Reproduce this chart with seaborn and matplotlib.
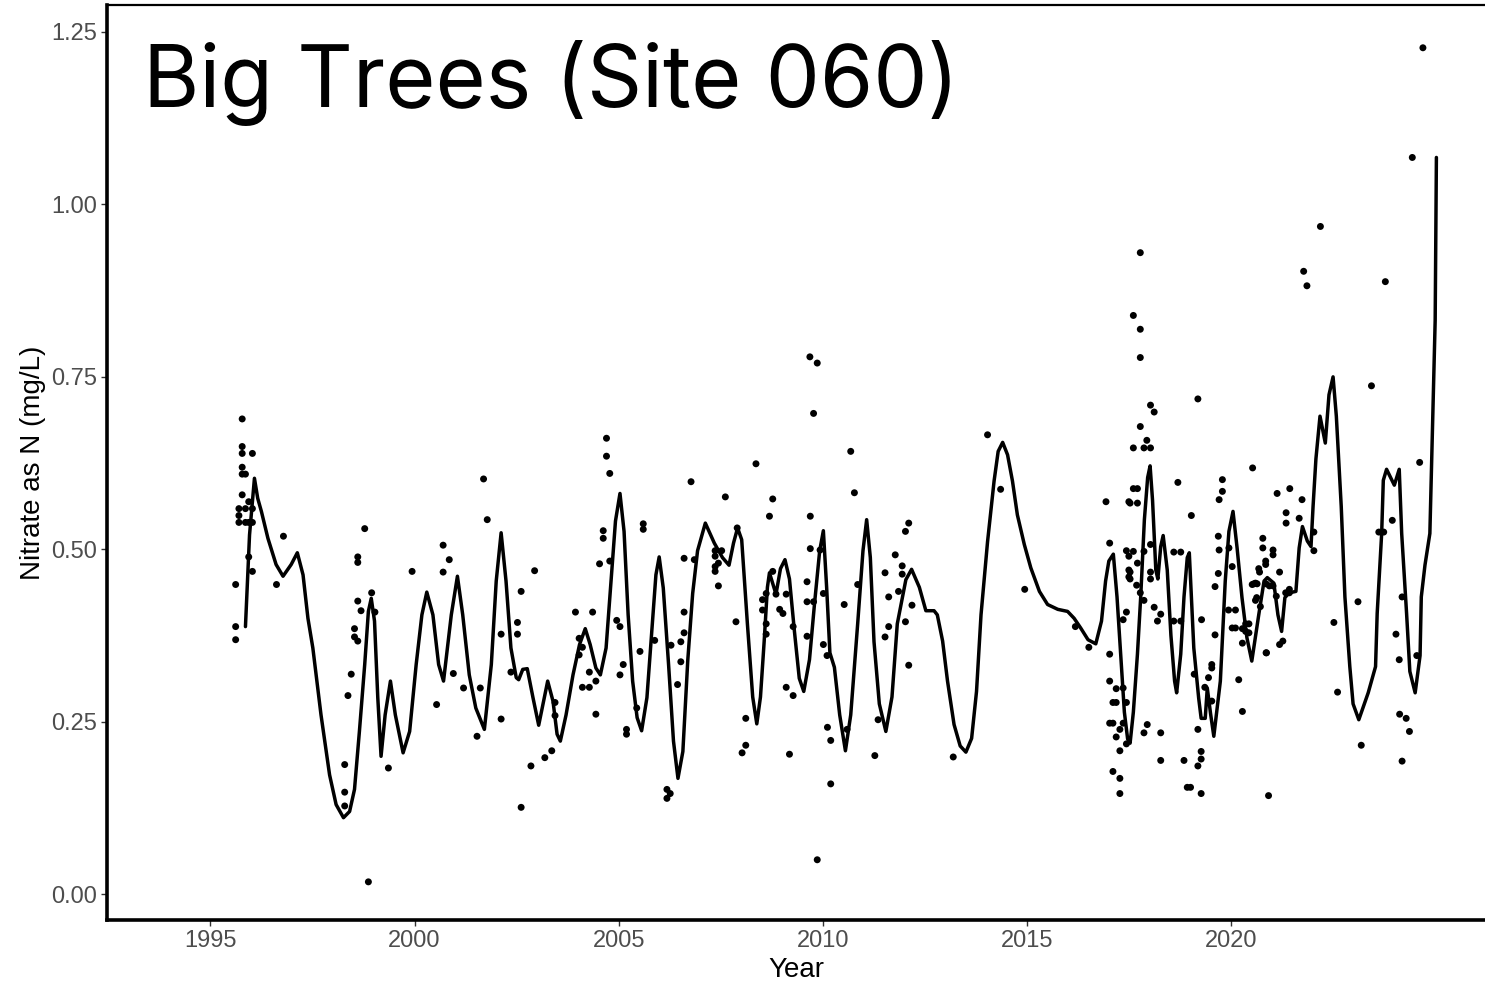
import matplotlib
matplotlib.use("Agg")
import matplotlib.pyplot as plt
import seaborn as sns
import pandas as pd

# Individual nitrate samples (decimal year, mg/L as N)
sample_year = [
    1995.78, 1995.78, 1995.78, 1996.03, 1995.78, 1995.78, 1995.86, 1995.78, 1995.70, 1995.86,
    1996.03, 1995.94, 1995.70, 1995.70, 1995.86, 1995.94, 1996.03, 1995.94, 1996.03, 1995.62,
    1995.62, 1995.62, 1996.79, 1996.62,
    1998.78, 1998.61, 1998.61, 1998.61, 1998.69, 1998.95, 1999.03, 1998.53, 1998.53, 1998.61,
    1998.45, 1998.37, 1998.29, 1998.29, 1998.29, 1998.87, 1999.36, 1999.94, 2000.70, 2000.85,
    2000.70, 2000.54,
    2000.95, 2001.20, 2001.61, 2001.53, 2001.69, 2001.78, 2002.12, 2002.12, 2002.36, 2002.52,
    2002.52, 2002.61, 2002.61, 2002.85, 2002.94, 2003.19, 2003.36, 2003.44, 2003.44, 2003.94,
    2004.03, 2004.03, 2004.11, 2004.11, 2004.28, 2004.28, 2004.36, 2004.44, 2004.44, 2004.53,
    2004.62, 2004.62, 2004.70, 2004.70, 2004.78, 2004.78, 2004.95, 2005.03, 2005.11, 2005.03,
    2005.19, 2005.19, 2005.44, 2005.52, 2005.60, 2005.60, 2005.88, 2006.18, 2006.26, 2006.18,
    2006.28, 2006.52, 2006.52, 2006.44, 2006.60, 2006.60, 2006.60, 2006.77, 2006.85, 2007.36,
    2007.36, 2007.52, 2007.44, 2007.36, 2007.36, 2007.44, 2007.61, 2007.87, 2007.90, 2008.11,
    2008.11, 2008.02, 2008.36, 2008.52, 2008.52, 2008.61, 2008.61, 2008.61, 2008.69, 2008.77,
    2008.77, 2008.85, 2008.94, 2009.02, 2009.10, 2009.10, 2009.27, 2009.27, 2009.18, 2009.61,
    2009.61, 2009.61, 2009.69, 2009.69, 2009.68, 2009.86, 2009.77, 2009.77, 2009.93, 2010.01,
    2010.01, 2010.10, 2009.86, 2010.11, 2010.19, 2010.19, 2010.52, 2010.68, 2010.77, 2010.85,
    2010.59, 2011.27, 2011.35, 2011.52, 2011.61, 2011.61, 2011.52, 2011.77, 2011.85, 2011.94,
    2011.94, 2012.02, 2012.10, 2012.02, 2012.18, 2012.10,
    2013.19, 2014.03, 2014.35, 2014.94, 2016.18, 2016.51, 2016.93, 2017.02, 2017.02, 2017.02,
    2017.18, 2017.10, 2017.18, 2017.02, 2017.10, 2017.18, 2017.27, 2017.35, 2017.27, 2017.10,
    2017.27, 2017.35, 2017.43, 2017.43, 2017.35, 2017.43, 2017.43, 2017.49, 2017.49, 2017.49,
    2017.49, 2017.27,
    2017.77, 2017.60, 2017.77, 2017.77, 2019.18, 2018.02, 2018.11, 2017.77, 2017.93, 2017.86,
    2018.02, 2017.60, 2020.52, 2018.69, 2017.60, 2017.70, 2017.52, 2017.70, 2019.78, 2019.78,
    2019.70, 2019.02, 2018.59, 2018.76, 2019.68, 2019.70, 2020.77, 2020.77, 2018.02, 2017.52,
    2017.52, 2017.68, 2017.77, 2017.86, 2018.02, 2018.02, 2017.60, 2017.70, 2017.86, 2019.60,
    2019.68, 2020.02, 2020.51, 2020.59, 2020.67, 2020.84, 2020.59, 2018.11, 2018.27, 2018.19,
    2018.59, 2018.76, 2019.27, 2019.93, 2020.10, 2020.02, 2020.10, 2020.35, 2020.43, 2020.27,
    2020.35, 2020.43, 2020.27, 2020.85, 2019.60, 2019.52, 2019.52, 2019.44, 2019.35, 2019.52,
    2019.09, 2020.18, 2020.27, 2017.94, 2017.86, 2018.27, 2018.27, 2018.84, 2018.92, 2019.00,
    2019.18, 2019.26, 2019.18, 2019.26, 2019.26, 2020.91, 2019.94, 2020.62,
    2024.69, 2024.43, 2022.18, 2021.77, 2021.85, 2023.77, 2023.43, 2024.61, 2021.43, 2021.12,
    2021.73, 2021.34, 2021.34, 2021.66, 2022.02, 2022.02, 2023.61, 2023.73, 2023.94, 2021.02,
    2021.02, 2020.84, 2020.69, 2021.18, 2020.55, 2020.63, 2020.85, 2020.93, 2021.02, 2021.42,
    2021.10, 2021.33, 2021.42, 2020.71, 2020.86, 2021.18, 2021.26, 2023.10, 2022.51, 2022.60,
    2023.18, 2024.18, 2024.03, 2024.11, 2024.54, 2024.12, 2024.28, 2024.36, 2024.18,
]
sample_nitrate = [
    0.689, 0.649, 0.639, 0.639, 0.619, 0.609, 0.609, 0.579, 0.559, 0.559,
    0.559, 0.569, 0.549, 0.539, 0.539, 0.539, 0.539, 0.489, 0.468, 0.449,
    0.388, 0.369, 0.519, 0.449,
    0.530, 0.489, 0.481, 0.425, 0.411, 0.437, 0.409, 0.385, 0.373, 0.367,
    0.319, 0.288, 0.188, 0.148, 0.128, 0.018, 0.183, 0.468, 0.506, 0.485,
    0.467, 0.275,
    0.320, 0.299, 0.299, 0.229, 0.602, 0.543, 0.377, 0.254, 0.322, 0.394,
    0.377, 0.439, 0.126, 0.186, 0.469, 0.198, 0.208, 0.278, 0.259, 0.409,
    0.371, 0.347, 0.358, 0.300, 0.300, 0.322, 0.409, 0.309, 0.261, 0.479,
    0.527, 0.516, 0.661, 0.635, 0.610, 0.483, 0.397, 0.388, 0.333, 0.318,
    0.239, 0.232, 0.270, 0.352, 0.537, 0.529, 0.368, 0.152, 0.146, 0.139,
    0.361, 0.366, 0.337, 0.304, 0.379, 0.409, 0.487, 0.598, 0.485, 0.498,
    0.490, 0.498, 0.480, 0.475, 0.468, 0.447, 0.576, 0.395, 0.531, 0.255,
    0.216, 0.205, 0.624, 0.427, 0.412, 0.436, 0.392, 0.377, 0.548, 0.573,
    0.468, 0.435, 0.413, 0.407, 0.435, 0.300, 0.288, 0.388, 0.203, 0.453,
    0.424, 0.374, 0.548, 0.501, 0.779, 0.770, 0.697, 0.424, 0.499, 0.436,
    0.362, 0.346, 0.050, 0.242, 0.223, 0.160, 0.420, 0.642, 0.582, 0.449,
    0.239, 0.201, 0.253, 0.466, 0.431, 0.388, 0.373, 0.492, 0.439, 0.476,
    0.464, 0.526, 0.538, 0.395, 0.419, 0.332,
    0.199, 0.666, 0.587, 0.442, 0.388, 0.358, 0.569, 0.509, 0.348, 0.309,
    0.298, 0.278, 0.278, 0.248, 0.248, 0.228, 0.239, 0.248, 0.208, 0.178,
    0.168, 0.299, 0.218, 0.278, 0.398, 0.409, 0.498, 0.490, 0.470, 0.460,
    0.569, 0.146,
    0.930, 0.839, 0.819, 0.778, 0.718, 0.709, 0.699, 0.678, 0.658, 0.647,
    0.647, 0.647, 0.618, 0.597, 0.588, 0.588, 0.567, 0.567, 0.601, 0.584,
    0.572, 0.549, 0.496, 0.496, 0.519, 0.499, 0.516, 0.502, 0.507, 0.467,
    0.457, 0.448, 0.437, 0.426, 0.467, 0.457, 0.497, 0.480, 0.497, 0.446,
    0.465, 0.475, 0.449, 0.451, 0.472, 0.483, 0.426, 0.416, 0.406, 0.396,
    0.396, 0.396, 0.398, 0.412, 0.412, 0.386, 0.386, 0.392, 0.392, 0.385,
    0.381, 0.379, 0.364, 0.350, 0.376, 0.333, 0.328, 0.314, 0.300, 0.280,
    0.319, 0.311, 0.265, 0.246, 0.234, 0.234, 0.194, 0.194, 0.155, 0.155,
    0.239, 0.207, 0.186, 0.196, 0.146, 0.143, 0.502, 0.430,
    1.227, 1.068, 0.968, 0.903, 0.882, 0.888, 0.737, 0.626, 0.588, 0.581,
    0.572, 0.553, 0.538, 0.545, 0.525, 0.498, 0.525, 0.525, 0.542, 0.499,
    0.492, 0.478, 0.467, 0.467, 0.450, 0.450, 0.450, 0.447, 0.447, 0.442,
    0.432, 0.437, 0.437, 0.417, 0.350, 0.362, 0.367, 0.424, 0.394, 0.293,
    0.216, 0.431, 0.377, 0.340, 0.346, 0.261, 0.255, 0.236, 0.193,
]

# Smoothed trend line (decimal year, mg/L as N)
trend_year = [
    1995.86, 1995.96, 1996.08, 1996.16, 1996.25, 1996.41, 1996.61, 1996.78, 1996.98, 1997.13,
    1997.27, 1997.39, 1997.51, 1997.71, 1997.92, 1998.08, 1998.26, 1998.41, 1998.53, 1998.65,
    1998.78, 1998.87, 1998.94, 1999.02, 1999.10, 1999.18, 1999.28, 1999.41, 1999.53, 1999.72,
    1999.88, 2000.04, 2000.18, 2000.30, 2000.45, 2000.59, 2000.71, 2000.90, 2001.05, 2001.18,
    2001.34, 2001.50, 2001.71, 2001.88, 2002.00, 2002.12, 2002.24, 2002.36, 2002.49, 2002.55,
    2002.65, 2002.76, 2002.90, 2003.04, 2003.16, 2003.26, 2003.39, 2003.49, 2003.57, 2003.71,
    2003.88, 2004.04, 2004.18, 2004.30, 2004.44, 2004.55, 2004.69, 2004.81, 2004.92, 2005.03,
    2005.13, 2005.23, 2005.34, 2005.45, 2005.56, 2005.69, 2005.81, 2005.91, 2005.99, 2006.09,
    2006.22, 2006.34, 2006.45, 2006.57, 2006.69, 2006.81, 2006.93, 2007.12, 2007.34, 2007.54,
    2007.70, 2007.81, 2007.91, 2008.01, 2008.15, 2008.28, 2008.38, 2008.47, 2008.56, 2008.64,
    2008.69, 2008.85, 2008.96, 2009.07, 2009.18, 2009.30, 2009.42, 2009.53, 2009.67, 2009.79,
    2009.92, 2010.01, 2010.09, 2010.17, 2010.28, 2010.41, 2010.55, 2010.68, 2010.85, 2010.98,
    2011.07, 2011.16, 2011.25, 2011.38, 2011.54, 2011.69, 2011.82, 2012.03, 2012.17, 2012.36,
    2012.52, 2012.72, 2012.80, 2012.93, 2013.05, 2013.21, 2013.36, 2013.50, 2013.64, 2013.76,
    2013.87, 2014.03, 2014.19, 2014.29, 2014.40, 2014.52, 2014.64, 2014.76, 2014.93, 2015.09,
    2015.30, 2015.50, 2015.75, 2015.99, 2016.15, 2016.31, 2016.49, 2016.68, 2016.82, 2016.92,
    2017.00, 2017.11, 2017.20, 2017.29, 2017.38, 2017.46, 2017.52, 2017.60, 2017.70, 2017.78,
    2017.87, 2017.95, 2018.01, 2018.07, 2018.15, 2018.20, 2018.27, 2018.33, 2018.43, 2018.52,
    2018.61, 2018.66, 2018.76, 2018.84, 2018.92, 2018.97, 2019.08, 2019.20, 2019.26, 2019.36,
    2019.41, 2019.49, 2019.57, 2019.73, 2019.85, 2019.94, 2020.04, 2020.14, 2020.26, 2020.38,
    2020.50, 2020.67, 2020.80, 2020.88, 2021.04, 2021.14, 2021.23, 2021.31, 2021.42, 2021.58,
    2021.66, 2021.74, 2021.86, 2021.95, 2022.00, 2022.07, 2022.17, 2022.30, 2022.39, 2022.49,
    2022.57, 2022.69, 2022.78, 2022.90, 2022.98, 2023.12, 2023.35, 2023.53, 2023.57, 2023.68,
    2023.72, 2023.80, 2023.99, 2024.11, 2024.17, 2024.29, 2024.37, 2024.50, 2024.62, 2024.65,
    2024.74, 2024.86, 2024.99, 2025.02,
]
trend_nitrate = [
    0.388, 0.521, 0.603, 0.574, 0.555, 0.516, 0.478, 0.461, 0.478, 0.495,
    0.463, 0.400, 0.357, 0.260, 0.173, 0.130, 0.111, 0.120, 0.152, 0.236,
    0.333, 0.410, 0.429, 0.396, 0.285, 0.200, 0.260, 0.309, 0.260, 0.205,
    0.236, 0.333, 0.405, 0.438, 0.405, 0.333, 0.309, 0.405, 0.461, 0.405,
    0.318, 0.270, 0.239, 0.333, 0.454, 0.524, 0.454, 0.357, 0.314, 0.311,
    0.326, 0.327, 0.285, 0.245, 0.280, 0.309, 0.280, 0.232, 0.222, 0.260,
    0.318, 0.362, 0.385, 0.362, 0.328, 0.318, 0.357, 0.454, 0.541, 0.581,
    0.526, 0.405, 0.309, 0.256, 0.237, 0.285, 0.381, 0.463, 0.489, 0.444,
    0.333, 0.222, 0.168, 0.207, 0.339, 0.436, 0.498, 0.538, 0.509, 0.488,
    0.477, 0.509, 0.531, 0.514, 0.392, 0.286, 0.247, 0.286, 0.366, 0.445,
    0.466, 0.435, 0.472, 0.485, 0.457, 0.382, 0.313, 0.294, 0.340, 0.419,
    0.498, 0.527, 0.445, 0.350, 0.329, 0.260, 0.208, 0.260, 0.392, 0.498,
    0.543, 0.488, 0.366, 0.276, 0.236, 0.286, 0.392, 0.456, 0.471, 0.445,
    0.411, 0.411, 0.405, 0.367, 0.309, 0.246, 0.215, 0.206, 0.226, 0.294,
    0.405, 0.511, 0.599, 0.642, 0.655, 0.637, 0.599, 0.550, 0.507, 0.473,
    0.439, 0.420, 0.413, 0.410, 0.400, 0.386, 0.369, 0.363, 0.396, 0.454,
    0.483, 0.493, 0.431, 0.348, 0.264, 0.225, 0.219, 0.264, 0.348, 0.431,
    0.543, 0.604, 0.621, 0.571, 0.470, 0.457, 0.504, 0.520, 0.470, 0.375,
    0.309, 0.292, 0.348, 0.431, 0.488, 0.495, 0.357, 0.284, 0.255, 0.255,
    0.299, 0.262, 0.229, 0.309, 0.454, 0.526, 0.555, 0.502, 0.430, 0.372,
    0.338, 0.405, 0.454, 0.459, 0.451, 0.405, 0.381, 0.430, 0.437, 0.439,
    0.502, 0.533, 0.512, 0.504, 0.562, 0.631, 0.693, 0.654, 0.724, 0.750,
    0.693, 0.562, 0.431, 0.330, 0.276, 0.253, 0.292, 0.330, 0.407, 0.523,
    0.600, 0.616, 0.593, 0.616, 0.523, 0.407, 0.323, 0.292, 0.346, 0.431,
    0.477, 0.523, 0.832, 1.068,
]

x_ticks = [1995, 2000, 2005, 2010, 2015, 2020]
y_ticks = [0.00, 0.25, 0.50, 0.75, 1.00, 1.25]
y_tick_labels = ["0.00", "0.25", "0.50", "0.75", "1.00", "1.25"]

samples = pd.DataFrame({"Year": sample_year, "Nitrate": sample_nitrate})
trend = pd.DataFrame({"Year": trend_year, "Nitrate": trend_nitrate})

sns.set_theme(style="white")
plt.rcParams["font.family"] = ["Liberation Sans", "DejaVu Sans"]

fig = plt.figure(figsize=(14.85, 9.83), dpi=100)
ax = fig.add_axes([107 / 1485, 63 / 983, 1378 / 1485, 915 / 983])

sns.scatterplot(data=samples, x="Year", y="Nitrate", ax=ax, color="black",
                s=25, edgecolor="none", linewidth=0, zorder=2)
sns.lineplot(data=trend, x="Year", y="Nitrate", ax=ax, color="black",
             linewidth=2.5, sort=False, estimator=None, zorder=3)
trend_line = ax.lines[-1]
trend_line.set_solid_joinstyle("round")
trend_line.set_solid_capstyle("round")

ax.set_xlim(1992.47, 2026.21)
ax.set_ylim(-0.0373, 1.289)
ax.set_xticks(x_ticks)
ax.set_xticklabels([str(t) for t in x_ticks])
ax.set_yticks(y_ticks)
ax.set_yticklabels(y_tick_labels)

ax.tick_params(axis="both", which="major", length=4, width=1.0, color="#333333",
               labelcolor="#4d4d4d", labelsize=17, pad=3,
               bottom=True, left=True)

for side in ["left", "bottom"]:
    ax.spines[side].set_visible(True)
    ax.spines[side].set_color("black")
    ax.spines[side].set_linewidth(2.6)
ax.spines["top"].set_visible(True)
ax.spines["top"].set_color("black")
ax.spines["top"].set_linewidth(1.6)
ax.spines["right"].set_visible(False)

ax.set_xlabel("Year", fontsize=20, color="black", labelpad=4)
ax.set_ylabel("Nitrate as N (mg/L)", fontsize=20, color="black", labelpad=4)

fig.text(143 / 1485, 1 - 107 / 983, "Big Trees (Site 060)", fontsize=62,
         family=["Inter", "DejaVu Sans"], color="black", ha="left", va="baseline")

fig.savefig("out.png", dpi=100)
